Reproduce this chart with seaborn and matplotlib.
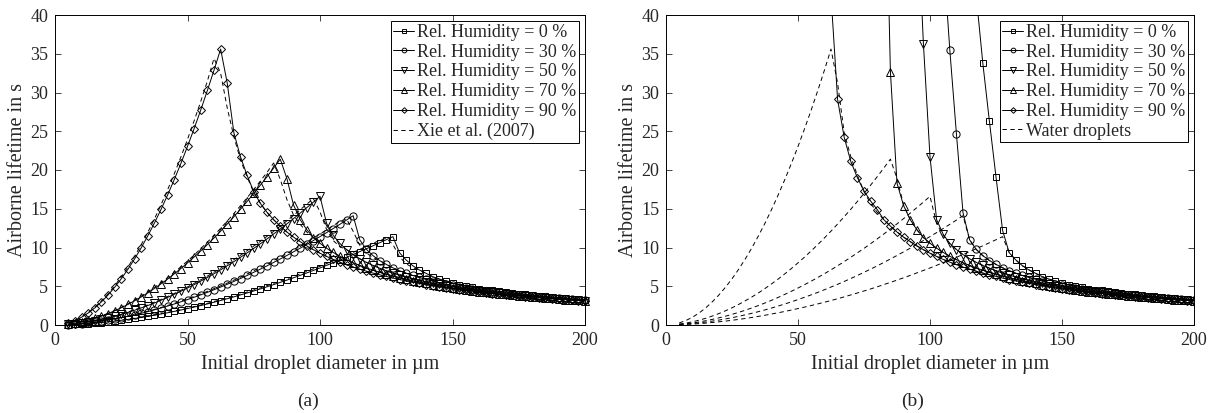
import numpy as np
import matplotlib
matplotlib.use("Agg")
import matplotlib.pyplot as plt
import seaborn as sns

# initial droplet diameter in um (2.5 um steps)
diameter = [5, 7.5, 10, 12.5, 15, 17.5, 20, 22.5, 25, 27.5, 30, 32.5, 35, 37.5, 40,
            42.5, 45, 47.5, 50, 52.5, 55, 57.5, 60, 62.5, 65, 67.5, 70, 72.5, 75, 77.5,
            80, 82.5, 85, 87.5, 90, 92.5, 95, 97.5, 100, 102.5, 105, 107.5, 110, 112.5,
            115, 117.5, 120, 122.5, 125, 127.5, 130, 132.5, 135, 137.5, 140, 142.5, 145,
            147.5, 150, 152.5, 155, 157.5, 160, 162.5, 165, 167.5, 170, 172.5, 175,
            177.5, 180, 182.5, 185, 187.5, 190, 192.5, 195, 197.5, 200]

# ---- (a) model, solid lines: rising part + settling tail
rh0_a = [0.03, 0.07, 0.12, 0.17, 0.24, 0.32, 0.41, 0.50, 0.61, 0.72, 0.84, 0.97, 1.11,
         1.26, 1.42, 1.58, 1.75, 1.93, 2.12, 2.31, 2.51, 2.72, 2.94, 3.16, 3.39, 3.63,
         3.88, 4.13, 4.39, 4.65, 4.93, 5.21, 5.50, 5.79, 6.09, 6.40, 6.72, 7.04, 7.36,
         7.70, 8.04, 8.39, 8.74, 9.10, 9.47, 9.84, 10.22, 10.61, 11.00, 11.40,
         9.33, 8.39, 7.65, 7.10, 6.67, 6.24, 5.94, 5.68, 5.38, 5.16, 4.98, 4.84, 4.70,
         4.58, 4.46, 4.35, 4.25, 4.14, 4.05, 3.95, 3.86, 3.77, 3.68, 3.61, 3.53, 3.45,
         3.39, 3.32, 3.26]
rh30_a = [0.05, 0.11, 0.18, 0.27, 0.38, 0.50, 0.63, 0.78, 0.94, 1.12, 1.31, 1.51, 1.72,
          1.95, 2.19, 2.45, 2.71, 2.99, 3.28, 3.58, 3.89, 4.21, 4.55, 4.90, 5.25, 5.62,
          6.00, 6.39, 6.80, 7.21, 7.63, 8.07, 8.52, 8.97, 9.44, 9.91, 10.40, 10.90,
          11.41, 11.92, 12.45, 12.99, 13.54, 14.10,
          10.99, 9.76, 8.95, 8.32, 7.82, 7.38, 7.00, 6.68, 6.39, 6.13, 5.90, 5.67, 5.47,
          5.28, 5.11, 4.96, 4.80, 4.67, 4.54, 4.42, 4.31, 4.21, 4.10, 4.01, 3.92, 3.83,
          3.74, 3.66, 3.58, 3.51, 3.44, 3.37, 3.32, 3.25, 3.19]
rh50_a = [0.08, 0.16, 0.26, 0.39, 0.55, 0.72, 0.92, 1.13, 1.37, 1.63, 1.90, 2.20, 2.51,
          2.84, 3.19, 3.56, 3.95, 4.35, 4.77, 5.21, 5.66, 6.13, 6.62, 7.12, 7.64, 8.18,
          8.74, 9.31, 9.89, 10.49, 11.11, 11.74, 12.39, 13.05, 13.73, 14.43, 15.14,
          15.86, 16.60,
          13.1, 11.56, 10.52, 9.74, 9.09, 8.55, 8.08, 7.69, 7.33, 7.00, 6.71, 6.44, 6.20,
          5.97, 5.77, 5.58, 5.40, 5.23, 5.07, 4.92, 4.79, 4.66, 4.54, 4.41, 4.31, 4.21,
          4.11, 4.01, 3.93, 3.84, 3.76, 3.68, 3.60, 3.53, 3.46, 3.39, 3.33, 3.27, 3.21,
          3.16]
rh70_a = [0.11, 0.24, 0.41, 0.62, 0.86, 1.15, 1.47, 1.83, 2.22, 2.65, 3.12, 3.61, 4.14,
          4.71, 5.31, 5.93, 6.60, 7.29, 8.02, 8.77, 9.56, 10.38, 11.23, 12.11, 13.03,
          13.97, 14.94, 15.94, 16.98, 18.04, 19.13, 20.25, 21.40,
          18.9, 15.5, 13.6, 12.3, 11.29, 10.55, 9.91, 9.36, 8.87, 8.43, 8.03, 7.69, 7.36,
          7.07, 6.81, 6.56, 6.32, 6.11, 5.90, 5.71, 5.53, 5.37, 5.21, 5.07, 4.92, 4.78,
          4.66, 4.54, 4.43, 4.32, 4.22, 4.12, 4.04, 3.94, 3.86, 3.78, 3.70, 3.63, 3.56,
          3.48, 3.42, 3.36, 3.29, 3.24, 3.18, 3.13]
rh90_a = [0.26, 0.57, 1.00, 1.54, 2.20, 2.98, 3.86, 4.86, 5.96, 7.18, 8.51, 9.94, 11.49,
          13.14, 14.91, 16.78, 18.76, 20.84, 23.04, 25.34, 27.74, 30.26, 32.87, 35.60,
          31.2, 24.8, 21.7, 19.3, 17.2, 15.69, 14.54, 13.59, 12.76, 12.00, 11.34, 10.76,
          10.21, 9.72, 9.26, 8.85, 8.46, 8.11, 7.78, 7.47, 7.20, 6.94, 6.70, 6.48, 6.27,
          6.06, 5.87, 5.69, 5.53, 5.37, 5.22, 5.08, 4.94, 4.81, 4.68, 4.57, 4.46, 4.35,
          4.25, 4.15, 4.06, 3.98, 3.89, 3.82, 3.74, 3.66, 3.59, 3.52, 3.45, 3.39, 3.33,
          3.27, 3.22, 3.16, 3.11]

# ---- (a) Xie et al. (2007), dashed: rise + peak, tail same as model
xie0 = [0.03, 0.07, 0.12, 0.18, 0.25, 0.33, 0.42, 0.52, 0.63, 0.74, 0.87, 1.00, 1.14,
        1.30, 1.46, 1.63, 1.80, 1.99, 2.18, 2.38, 2.59, 2.80, 3.03, 3.25, 3.49, 3.74,
        4.00, 4.25, 4.52, 4.79, 5.08, 5.37, 5.67, 5.96, 6.27, 6.59, 6.92, 7.25, 7.58,
        7.93, 8.28, 8.64, 9.00, 9.37, 9.75, 10.14, 10.53, 10.93,
        11.2, 10.4, 8.8, 7.9, 7.4] + rh0_a[53:]
xie30 = [0.05, 0.11, 0.19, 0.28, 0.39, 0.52, 0.65, 0.80, 0.97, 1.15, 1.35, 1.56, 1.77,
         2.01, 2.26, 2.52, 2.79, 3.08, 3.38, 3.69, 4.01, 4.34, 4.69, 5.05, 5.41, 5.79,
         6.18, 6.58, 7.00, 7.43, 7.86, 8.31, 8.78, 9.24, 9.72, 10.21, 10.71, 11.23,
         11.75, 12.28, 12.82, 13.38,
         13.7, 12.1, 10.3, 9.3, 8.7] + rh30_a[47:]
xie50 = [0.08, 0.16, 0.27, 0.40, 0.57, 0.74, 0.95, 1.16, 1.41, 1.68, 1.96, 2.27, 2.59,
         2.93, 3.29, 3.67, 4.07, 4.48, 4.91, 5.37, 5.83, 6.31, 6.82, 7.33, 7.87, 8.43,
         9.00, 9.59, 10.19, 10.80, 11.44, 12.09, 12.76, 13.44, 14.14, 14.86, 15.59,
         16.3, 14.6, 12.3, 10.9, 10.1] + rh50_a[42:]
xie70 = [0.11, 0.25, 0.42, 0.64, 0.89, 1.18, 1.51, 1.88, 2.29, 2.73, 3.21, 3.72, 4.26,
         4.85, 5.47, 6.11, 6.80, 7.51, 8.26, 9.03, 9.85, 10.69, 11.57, 12.47, 13.42,
         14.39, 15.39, 16.42, 17.49, 18.58, 19.70,
         20.9, 18.8, 16.2, 14.2, 13.0, 12.0] + rh70_a[37:]
xie90 = [0.27, 0.59, 1.04, 1.60, 2.29, 3.10, 4.01, 5.05, 6.20, 7.47, 8.85, 10.34, 11.95,
         13.67, 15.51, 17.45, 19.51, 21.67, 23.96, 26.35, 28.85, 31.47,
         34.4, 32.5, 28.0, 24.3, 21.3, 19.1, 17.1] + rh90_a[29:]

# ---- (b) droplets with non-volatile content (off-scale below threshold)
nan = float("nan")
rh0_b = [nan] * 45 + [42.5, 33.8, 26.3, 19.1, 12.2] + rh0_a[50:]
rh30_b = [nan] * 40 + [48.0, 35.5, 24.7, 14.5] + rh30_a[44:]
rh50_b = [nan] * 36 + [55.0, 36.3, 21.7, 13.6, 11.7] + rh50_a[41:]
rh70_b = [nan] * 31 + [70.0, 32.7, 18.3, 15.4] + rh70_a[35:]
rh90_b = [nan] * 23 + [42.5, 29.1, 24.2, 21.1, 19.0, 17.3, 16.0, 14.9] + rh90_a[31:]

labels = ["Rel. Humidity = 0 %", "Rel. Humidity = 30 %", "Rel. Humidity = 50 %",
          "Rel. Humidity = 70 %", "Rel. Humidity = 90 %"]
markers = ["s", "o", "v", "^", "D"]
msizes = [4.8, 5.2, 5.8, 5.8, 4.4]

sns.set_style("ticks")
plt.rcParams["font.family"] = ["Liberation Serif", "DejaVu Serif"]
plt.rcParams["font.size"] = 13

fig = plt.figure(figsize=(12.23, 4.13), dpi=100)
ax_a = fig.add_axes([55 / 1223, 88 / 413, 530 / 1223, 310 / 413])
ax_b = fig.add_axes([666 / 1223, 88 / 413, 528 / 1223, 310 / 413])


def solid(ax, y, i, clip):
    sns.lineplot(x=diameter, y=y, ax=ax, color="k", linewidth=0.7,
                 marker=markers[i], markersize=msizes[i], markerfacecolor="none",
                 markeredgecolor="k", markeredgewidth=0.7, label=labels[i],
                 clip_on=clip, errorbar=None)


def dashed(ax, y, label):
    sns.lineplot(x=diameter, y=y, ax=ax, color="k", linewidth=0.7,
                 linestyle=(0, (4.5, 3.5)), label=label, errorbar=None)


# (a)
for i, y in enumerate([rh0_a, rh30_a, rh50_a, rh70_a, rh90_a]):
    solid(ax_a, y, i, False)
for j, y in enumerate([xie0, xie30, xie50, xie70, xie90]):
    dashed(ax_a, y, "Xie et al. (2007)" if j == 0 else "_nolegend_")

# (b)
for i, y in enumerate([rh0_b, rh30_b, rh50_b, rh70_b, rh90_b]):
    solid(ax_b, y, i, True)
for j, y in enumerate([rh0_a, rh30_a, rh50_a, rh70_a, rh90_a]):
    dashed(ax_b, y, "Water droplets" if j == 0 else "_nolegend_")

for ax in (ax_a, ax_b):
    ax.set_xlim(0, 200)
    ax.set_ylim(0, 40)
    ax.set_xticks([0, 50, 100, 150, 200])
    ax.set_yticks(range(0, 41, 5))
    ax.tick_params(direction="in", top=True, right=True, length=4, width=0.6,
                   labelsize=13, pad=5)
    for s in ax.spines.values():
        s.set_linewidth(0.7)
        s.set_color("k")
    ax.set_xlabel("Initial droplet diameter in µm", fontsize=14.5, labelpad=4)
    ax.set_ylabel("Airborne lifetime in s", fontsize=14.5, labelpad=2)
    leg = ax.legend(loc="upper right", fontsize=13, frameon=True, fancybox=False,
                    edgecolor="k", framealpha=1, borderaxespad=0.35, borderpad=0.15,
                    labelspacing=0.15, handlelength=1.15, handletextpad=0.15,
                    markerscale=0.65)
    leg.get_frame().set_linewidth(0.7)

fig.text(308 / 1223, 12 / 413, "(a)", ha="center", va="center", fontsize=14)
fig.text(913 / 1223, 12 / 413, "(b)", ha="center", va="center", fontsize=14)

fig.savefig("out.png", dpi=100)
